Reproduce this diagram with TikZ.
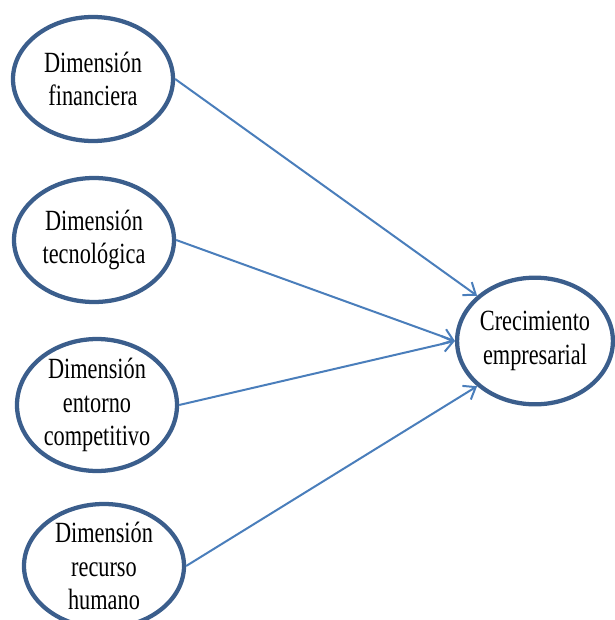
\documentclass[tikz,border=0pt]{standalone}
\usepackage{fontspec}
\setmainfont{Liberation Serif}
\newfontfamily\condserif[FakeStretch=0.76]{Liberation Serif}
\usetikzlibrary{shapes.geometric,arrows.meta}

\definecolor{ellblue}{HTML}{3B5E8C}
\definecolor{arrblue}{HTML}{4A7EBB}

\tikzset{
	dim/.style={draw=ellblue,line width=3.2pt,ellipse,inner sep=0pt,
		minimum width=120pt,minimum height=93pt,align=center,
		font=\condserif\fontsize{22}{25}\selectfont},
	flecha/.style={draw=arrblue,line width=1.5pt,
		-{Straight Barb[length=8pt,width=12pt,line width=1.5pt]}}
}

\begin{document}
\begin{tikzpicture}[x=0.75pt,y=-0.75pt]
		\useasboundingbox (0,0) rectangle (614,620);
		\node[dim] (fin) at (93,79){Dimensión\\financiera};
		\node[dim] (tec) at (94,240){Dimensión\\tecnológica};
		\node[dim] (ent) at (97,405){Dimensión\\entorno\\competitivo};
		\node[dim] (rh) at (104,566){Dimensión\\recurso\\humano};
		\node[dim,minimum width=116pt,minimum height=95pt] (crec) at (535,341){Crecimiento\\empresarial};
		\draw[flecha] (fin.east) -- (crec.142);
		\draw[flecha] (tec.east) -- (crec.west);
		\draw[flecha] (ent.east) -- (crec.west);
		\draw[flecha] (rh.east) -- (crec.218);
	\end{tikzpicture}
\end{document}
